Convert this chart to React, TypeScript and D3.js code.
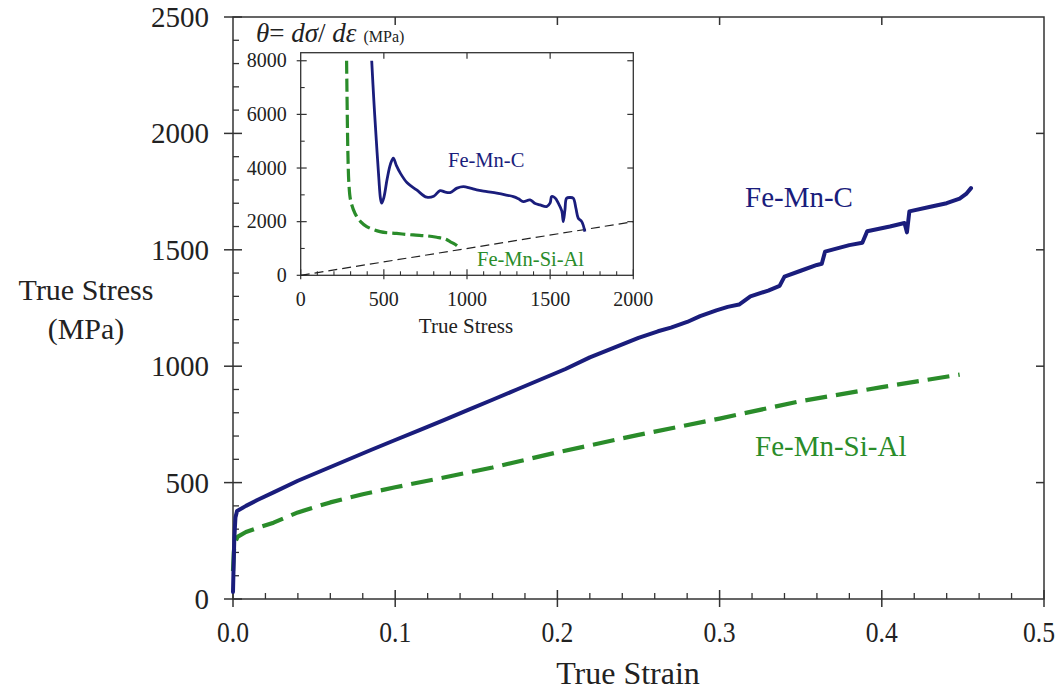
import React from "react";
import * as d3 from "d3";

// ---------- data ----------
const strainTicks = [0, 0.1, 0.2, 0.3, 0.4, 0.5];
const strainTickLabels = ["0.0", "0.1", "0.2", "0.3", "0.4", "0.5"];
const stressTicks = [0, 500, 1000, 1500, 2000, 2500];

const feMnCStrain = [0, 0.0003, 0.0008, 0.0015, 0.0025, 0.008, 0.015, 0.025, 0.04, 0.055, 0.07, 0.085, 0.1, 0.115, 0.13, 0.145, 0.16, 0.175, 0.19, 0.205, 0.22, 0.235, 0.25, 0.262, 0.27, 0.28, 0.288, 0.298, 0.305, 0.312, 0.319, 0.33, 0.337, 0.34, 0.35, 0.36, 0.363, 0.365, 0.38, 0.388, 0.391, 0.405, 0.414, 0.4155, 0.417, 0.43, 0.44, 0.448, 0.452, 0.455];
const feMnCStress = [30, 120, 260, 350, 378, 400, 425, 458, 508, 552, 596, 640, 683, 725, 768, 812, 856, 900, 944, 988, 1038, 1080, 1122, 1150, 1166, 1190, 1215, 1240, 1255, 1265, 1300, 1325, 1345, 1385, 1410, 1435, 1440, 1492, 1520, 1530, 1580, 1600, 1615, 1575, 1665, 1685, 1700, 1720, 1740, 1765];

const feMnSiAlStrain = [0, 0.0005, 0.001, 0.003, 0.008, 0.015, 0.025, 0.04, 0.06, 0.08, 0.1, 0.13, 0.16, 0.2, 0.25, 0.3, 0.35, 0.4, 0.448];
const feMnSiAlStress = [120, 200, 240, 268, 288, 305, 328, 372, 415, 450, 480, 522, 565, 630, 705, 775, 850, 910, 964];

// inset: work-hardening rate vs true stress
const insetXTicks = [0, 500, 1000, 1500, 2000];
const insetYTicks = [0, 2000, 4000, 6000, 8000];

const insetCSigma = [427, 440, 455, 470, 480, 487, 500, 520, 540, 557, 575, 600, 640, 697, 758, 800, 838, 870, 898, 940, 978, 1020, 1058, 1120, 1179, 1230, 1279, 1310, 1339, 1379, 1410, 1439, 1479, 1500, 1509, 1530, 1549, 1570, 1579, 1589, 1599, 1620, 1639, 1655, 1669, 1690, 1709];
const insetCTheta = [8000, 6500, 5000, 3600, 2850, 2690, 2900, 3600, 4150, 4370, 4100, 3800, 3450, 3184, 2912, 2950, 3158, 3100, 3084, 3250, 3308, 3250, 3184, 3120, 3060, 3000, 2934, 2850, 2748, 2810, 2680, 2624, 2561, 2700, 2934, 2880, 2688, 2400, 2001, 2438, 2874, 2900, 2874, 2500, 2127, 2001, 1628];

const insetSiAlSigma = [276, 280, 284, 290, 300, 326, 360, 397, 477, 577, 677, 760, 818, 870, 898, 930, 958];
const insetSiAlTheta = [8000, 6000, 4500, 3400, 2800, 2315, 2000, 1816, 1628, 1560, 1504, 1470, 1417, 1350, 1255, 1150, 1006];

const considereSigma = [0, 2000];
const considereTheta = [0, 2000];

// ---------- styles ----------
const FONT = '"Liberation Serif", "Times New Roman", serif';
const NAVY = "#1a1d7c";
const GREEN = "#2a8c2a";
const AXIS = "#333";

export default function App() {
  const W = 1060, H = 692;
  const x = d3.scaleLinear().domain([0, 0.5]).range([233, 1044]);
  const y = d3.scaleLinear().domain([0, 2500]).range([599, 17]);

  const xi = d3.scaleLinear().domain([0, 2000]).range([300.7, 633.3]);
  const yi = d3.scaleLinear().domain([0, 8300]).range([275.3, 52.7]);

  const line = d3.line<[number, number]>().x(d => x(d[0])).y(d => y(d[1]));
  const lineI = d3.line<[number, number]>().x(d => xi(d[0])).y(d => yi(d[1])).curve(d3.curveCatmullRom.alpha(0.5));

  const cPts = feMnCStrain.map((s, i) => [s, feMnCStress[i]] as [number, number]);
  const aPts = feMnSiAlStrain.map((s, i) => [s, feMnSiAlStress[i]] as [number, number]);
  const icPts = insetCSigma.map((s, i) => [s, insetCTheta[i]] as [number, number]);
  const iaPts = insetSiAlSigma.map((s, i) => [s, insetSiAlTheta[i]] as [number, number]);
  const consPts = considereSigma.map((s, i) => [s, considereTheta[i]] as [number, number]);

  const xMinor = d3.range(0, 0.5001, 0.02).filter(v => Math.abs(v * 10 - Math.round(v * 10)) > 1e-6);
  const yMinor = d3.range(0, 2500.1, 100).filter(v => v % 500 !== 0);
  const xiMinor = d3.range(0, 2000.1, 100).filter(v => v % 500 !== 0);
  const yiMinor = d3.range(1000, 8000.1, 2000);

  const [x0, x1] = x.range();
  const [y0, y1] = y.range();
  const [xi0, xi1] = xi.range();
  const [yi0, yi1] = yi.range();

  return (
    <svg width={W} height={H} style={{ position: "absolute", left: 0, top: 0, background: "#fff" }} fontFamily={FONT}>
      <rect x={0} y={0} width={W} height={H} fill="#fff" />
      {/* main frame */}
      <rect x={x0} y={y1} width={x1 - x0} height={y0 - y1} fill="none" stroke={AXIS} strokeWidth={1.5} />
      {/* bottom ticks */}
      {strainTicks.map(t => (
        <line key={"bx" + t} x1={x(t)} x2={x(t)} y1={y0 - 9} y2={y0 + 8} stroke={AXIS} strokeWidth={1.5} />
      ))}
      {xMinor.map(t => (
        <line key={"bxm" + t} x1={x(t)} x2={x(t)} y1={y0} y2={y0 - 6} stroke={AXIS} strokeWidth={1.3} />
      ))}
      {strainTicks.slice(1, -1).map(t => (
        <line key={"tx" + t} x1={x(t)} x2={x(t)} y1={y1} y2={y1 + 8} stroke={AXIS} strokeWidth={1.5} />
      ))}
      {strainTicks.map((t, i) => (
        <text key={"bxl" + t} x={x(t)} dx={i === strainTicks.length - 1 ? -5 : 0} y={y0 + 43} textAnchor="middle" fontSize={29} textLength={32} lengthAdjust="spacingAndGlyphs" fill="#222">{strainTickLabels[i]}</text>
      ))}
      {/* left ticks */}
      {stressTicks.map(t => (
        <line key={"ly" + t} x1={x0 - 9} x2={x0 + 9} y1={y(t)} y2={y(t)} stroke={AXIS} strokeWidth={1.5} />
      ))}
      {yMinor.map(t => (
        <line key={"lym" + t} x1={x0} x2={x0 + 6} y1={y(t)} y2={y(t)} stroke={AXIS} strokeWidth={1.3} />
      ))}
      {stressTicks.slice(1, -1).map(t => (
        <line key={"ry" + t} x1={x1} x2={x1 - 8} y1={y(t)} y2={y(t)} stroke={AXIS} strokeWidth={1.5} />
      ))}
      {stressTicks.map(t => (
        <text key={"lyl" + t} x={209} y={y(t) + 10} textAnchor="end" fontSize={29} fill="#222">{t}</text>
      ))}
      {/* axis titles */}
      <text x={628} y={684} textAnchor="middle" fontSize={32} fill="#222">True Strain</text>
      <text x={86} y={300} textAnchor="middle" fontSize={30} fill="#222">True Stress</text>
      <text x={86} y={339} textAnchor="middle" fontSize={30} fill="#222">(MPa)</text>

      {/* main curves */}
      <path d={line(aPts) || ""} fill="none" stroke={GREEN} strokeWidth={4.2} strokeDasharray="22 9" strokeLinejoin="round" />
      <path d={line(cPts) || ""} fill="none" stroke={NAVY} strokeWidth={4} strokeLinejoin="round" strokeLinecap="round" />
      <text x={745} y={207} fontSize={29} fill={NAVY}>Fe-Mn-C</text>
      <text x={755} y={456} fontSize={29} fill={GREEN}>Fe-Mn-Si-Al</text>

      {/* inset */}
      <rect x={xi0} y={yi1} width={xi1 - xi0} height={yi0 - yi1} fill="#fff" stroke={AXIS} strokeWidth={1.3} />
      {insetXTicks.map(t => (
        <line key={"ibx" + t} x1={xi(t)} x2={xi(t)} y1={yi0 - 6} y2={yi0 + 4} stroke={AXIS} strokeWidth={1.2} />
      ))}
      {xiMinor.map(t => (
        <line key={"ibxm" + t} x1={xi(t)} x2={xi(t)} y1={yi0} y2={yi0 - 4} stroke={AXIS} strokeWidth={1.1} />
      ))}
      {insetXTicks.slice(1, -1).map(t => (
        <line key={"itx" + t} x1={xi(t)} x2={xi(t)} y1={yi1} y2={yi1 + 6} stroke={AXIS} strokeWidth={1.2} />
      ))}
      {insetYTicks.map(t => (
        <line key={"ily" + t} x1={xi0 - 4} x2={xi0 + 6} y1={yi(t)} y2={yi(t)} stroke={AXIS} strokeWidth={1.2} />
      ))}
      {yiMinor.map(t => (
        <line key={"ilym" + t} x1={xi0} x2={xi0 + 4} y1={yi(t)} y2={yi(t)} stroke={AXIS} strokeWidth={1.1} />
      ))}
      {insetYTicks.slice(1).map(t => (
        <line key={"iry" + t} x1={xi1} x2={xi1 - 6} y1={yi(t)} y2={yi(t)} stroke={AXIS} strokeWidth={1.2} />
      ))}
      {insetXTicks.map(t => (
        <text key={"ixl" + t} x={xi(t)} y={yi0 + 31} textAnchor="middle" fontSize={20} fill="#222">{t}</text>
      ))}
      {insetYTicks.map(t => (
        <text key={"iyl" + t} x={xi0 - 14} y={yi(t) + 6.5} textAnchor="end" fontSize={20} fill="#222">{t}</text>
      ))}
      <text x={466} y={333} textAnchor="middle" fontSize={21} fill="#222">True Stress</text>
      <text x={256} y={42} fill="#222">
        <tspan fontSize={27} fontStyle="italic">θ</tspan>
        <tspan fontSize={27}>= </tspan>
        <tspan fontSize={27} fontStyle="italic">dσ</tspan>
        <tspan fontSize={27}>/ </tspan>
        <tspan fontSize={27} fontStyle="italic">dε</tspan>
        <tspan fontSize={16} dx={7}>(MPa)</tspan>
      </text>

      <path d={d3.line<[number, number]>().x(d => xi(d[0])).y(d => yi(d[1]))(consPts) || ""} fill="none" stroke="#222" strokeWidth={1.2} strokeDasharray="9 5" />
      <path d={lineI(iaPts) || ""} fill="none" stroke={GREEN} strokeWidth={3.2} strokeDasharray="13 5" />
      <path d={lineI(icPts) || ""} fill="none" stroke={NAVY} strokeWidth={2.8} strokeLinejoin="round" />
      <text x={448} y={167} fontSize={20.5} fill={NAVY}>Fe-Mn-C</text>
      <text x={477} y={266} fontSize={20.5} fill={GREEN}>Fe-Mn-Si-Al</text>
    </svg>
  );
}
